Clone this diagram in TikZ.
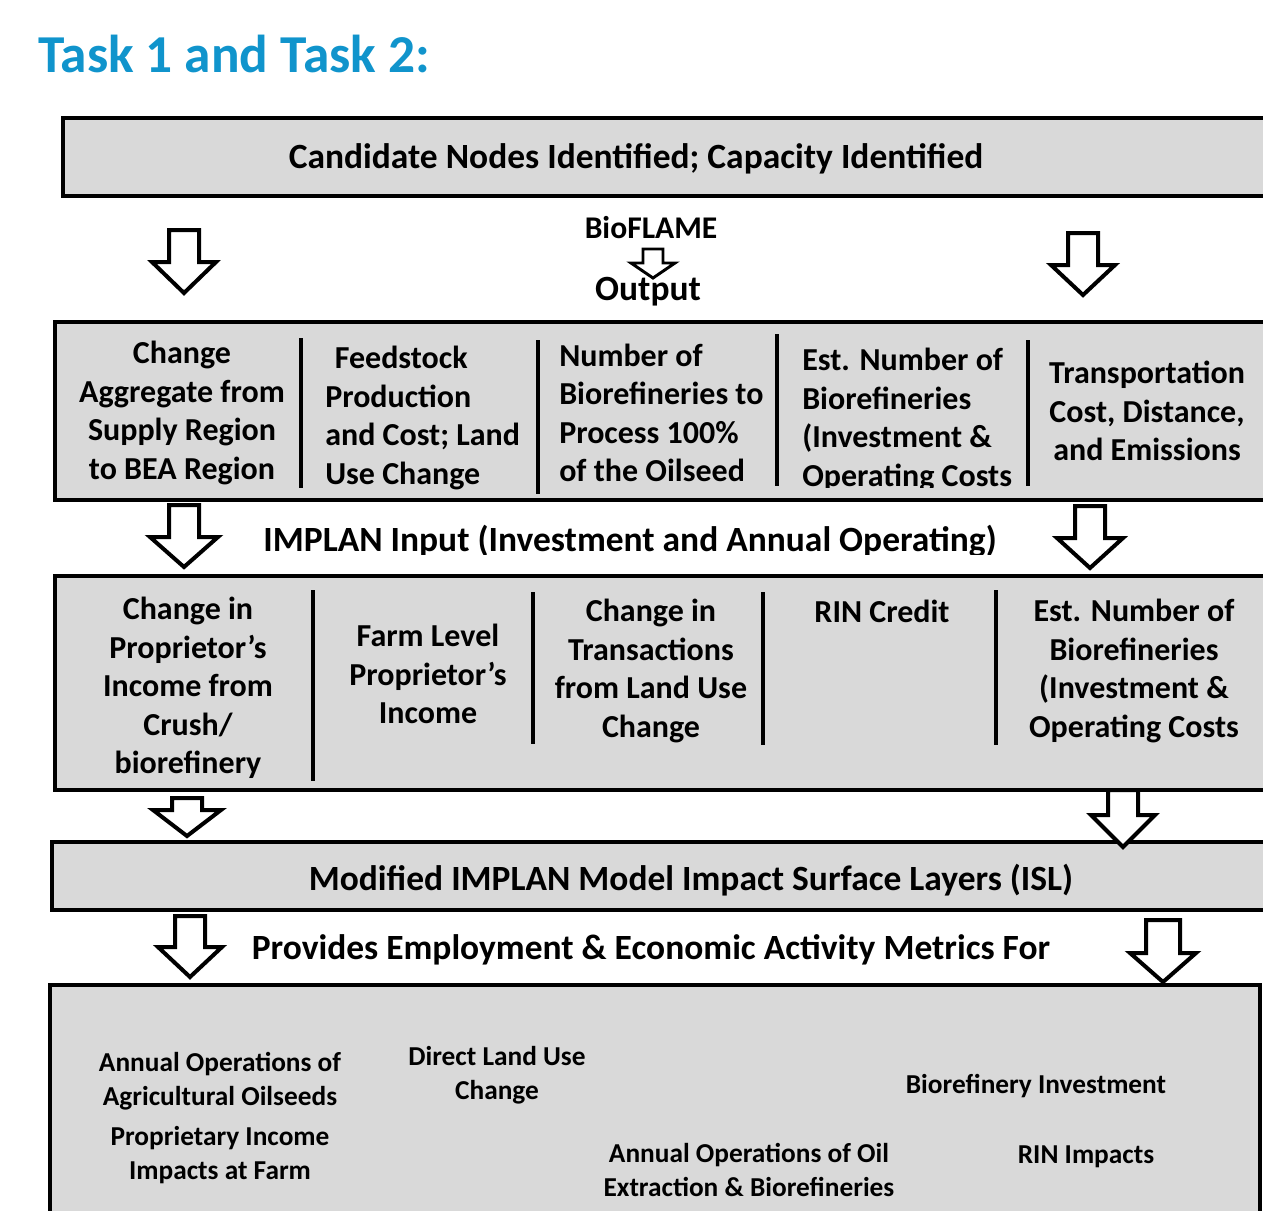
\documentclass[tikz,border=0pt]{standalone}
\usepackage{fontspec}
\setmainfont{Carlito}
\definecolor{boxgray}{HTML}{D9D9D9}
\definecolor{titleblue}{RGB}{16,148,204}

\tikzset{
  panel/.style={draw=black, line width=3pt, fill=boxgray},
  divider/.style={draw=black, line width=3.6pt},
  blockarrow/.style={draw=black, line width=3pt, fill=white, line join=miter},
  cell/.style={font=\bfseries\fontsize{24}{28.9}\selectfont, inner sep=0pt, align=center},
  lcell/.style={cell, align=left, anchor=west},
  banner/.style={font=\bfseries\fontsize{26.6}{32}\selectfont, inner sep=0pt, align=center},
  result/.style={font=\bfseries\fontsize{20.5}{25.2}\selectfont, inner sep=0pt, align=center},
}

% hollow down-pointing block arrow:
% #2 centre x, #3 shaft top, #4 head base, #5 tip, #6 shaft half width, #7 head half width
\newcommand{\downblock}[7][]{%
  \draw[blockarrow,#1] ({#2-#6},#3) -- ({#2+#6},#3) -- ({#2+#6},#4) -- ({#2+#7},#4)
    -- (#2,#5) -- ({#2-#7},#4) -- ({#2-#6},#4) -- cycle;}

\begin{document}
\begin{tikzpicture}[x=0.75pt,y=-0.75pt]
\useasboundingbox (0,0) rectangle (1263,1210);
\clip (0,0) rectangle (1263,1210);

% heading
\node[anchor=west, inner sep=0pt, text=titleblue,
      font=\bfseries\fontsize{40}{48}\selectfont] (title) at (38,54) {Task 1 and Task 2:};

% top panel
\draw[panel] (63,118) rectangle (1280,196);
\node[banner] (nodes) at (636,159) {Candidate Nodes Identified; Capacity Identified};

% BioFLAME output label
\node[cell, font=\bfseries\fontsize{23.7}{28}\selectfont] (bioflame) at (651,228) {BioFLAME};
\node[banner] (output) at (648,292) {Output};
\downblock[line width=2.2pt]{653}{249}{263}{278}{10}{22}

% first row of outputs
\draw[panel] (55,322) rectangle (1280,500);
\draw[divider] (301,338) -- (301,488);
\draw[divider] (538,340) -- (538,494);
\draw[divider] (777,334) -- (777,486);
\draw[divider] (1028,340) -- (1028,486);

\node[cell] (aggregate) at (182,413) {Change\\Aggregate from\\Supply Region\\to BEA Region};
\node[lcell] (feedstock) at (325,418) {\hspace{0.3em}Feedstock\\Production\\and Cost; Land\\Use Change};
\node[lcell] (numbio) at (559,413) {Number of\\Biorefineries to\\Process 100\%\\of the Oilseed};
\begin{scope}
  \clip (790,330) rectangle (1020,487);
  \node[lcell] (estbio) at (802,420) {Est. Number of\\Biorefineries\\(Investment \&\\Operating Costs};
\end{scope}
\node[cell] (transport) at (1147,411) {Transportation\\Cost, Distance,\\and Emissions};

% IMPLAN input label
\begin{scope}
  \clip (200,515) rectangle (1050,554);
  \node[banner] (implanin) at (630,541) {IMPLAN Input (Investment and Annual Operating)};
\end{scope}

% second row of inputs
\draw[panel] (55,576) rectangle (1280,790);
\draw[divider] (313,590) -- (313,781);
\draw[divider] (533,592) -- (533,744);
\draw[divider] (763,592) -- (763,745);
\draw[divider] (996,590) -- (996,745);

\node[cell] (propinc) at (188,688) {Change in\\Proprietor’s\\Income from\\Crush/\\biorefinery};
\node[cell] (farm) at (428,674) {Farm Level\\Proprietor’s\\Income};
\node[cell] (transact) at (651,671) {Change in\\Transactions\\from Land Use\\Change};
\node[cell] (rin) at (882,611) {RIN Credit};
\node[cell] (estbio2) at (1134,671) {Est. Number of\\Biorefineries\\(Investment \&\\Operating Costs};

% impact surface layers panel
\draw[panel] (52,842) rectangle (1266,910);
\node[banner] (isl) at (691,880) {Modified IMPLAN Model Impact Surface Layers (ISL)};

\node[banner] (provides) at (651,950) {Provides Employment \& Economic Activity Metrics For};

% metrics panel
\draw[panel] (50,985) rectangle (1260,1230);
\node[result] (agri) at (220,1081) {Annual Operations of\\Agricultural Oilseeds};
\node[result] (farmimp) at (220,1155) {Proprietary Income\\Impacts at Farm};
\node[result] (landuse) at (497,1075) {Direct Land Use\\Change};
\node[result] (invest) at (1036,1086) {Biorefinery Investment};
\node[result] (oilext) at (749,1170) {Annual Operations of Oil\\Extraction \& Biorefineries};
\node[result] (rinimp) at (1086,1157) {RIN Impacts};

% block arrows between the stages
\downblock{184}{230}{262}{293}{15}{32}
\downblock{1083}{233}{265}{295}{15}{32}
\downblock{184}{505}{537}{567}{15}{34}
\downblock{1090}{506}{538}{568}{15}{33}
\downblock{187}{798}{810}{836}{15}{34}
\downblock{1123}{790}{815}{847}{15}{32}
\downblock{190}{916}{947}{977}{15}{32}
\downblock{1163}{920}{953}{982}{17}{33}
\end{tikzpicture}
\end{document}
